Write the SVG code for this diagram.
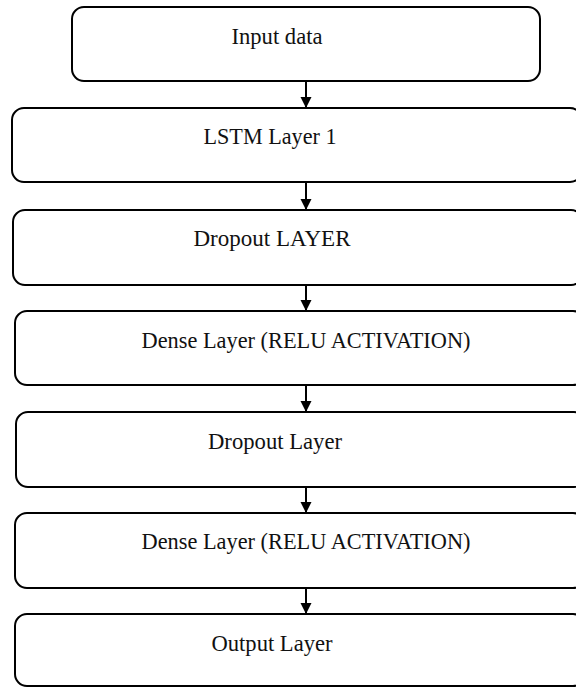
<svg xmlns="http://www.w3.org/2000/svg" width="576" height="688" viewBox="0 0 576 688">
<style>
.box{fill:#fff;stroke:#000;stroke-width:2}
.lbl{font-family:"Liberation Serif","Times New Roman",serif;font-size:24px;fill:#111;text-anchor:middle}
.con{stroke:#000;stroke-width:2;fill:none}
</style>
<defs>
<marker id="ah" markerWidth="12" markerHeight="12" refX="11" refY="6" orient="auto" markerUnits="userSpaceOnUse">
<path d="M0,0.5 L11,6 L0,11.5 Z" fill="#000"/>
</marker>
</defs>
<rect width="576" height="688" fill="#fff"/>
<g id="n1"><rect class="box" x="72" y="7" width="468" height="74" rx="12"/><text class="lbl" x="277" y="44" textLength="91" lengthAdjust="spacingAndGlyphs">Input data</text></g>
<g id="n2"><rect class="box" x="12" y="108" width="570" height="74" rx="12"/><text class="lbl" x="270" y="144" textLength="133" lengthAdjust="spacingAndGlyphs">LSTM Layer 1</text></g>
<g id="n3"><rect class="box" x="13" y="210" width="570" height="75" rx="12"/><text class="lbl" x="272" y="246" textLength="157" lengthAdjust="spacingAndGlyphs">Dropout LAYER</text></g>
<g id="n4"><rect class="box" x="15" y="311" width="570" height="74" rx="12"/><text class="lbl" x="306" y="348" textLength="329" lengthAdjust="spacingAndGlyphs">Dense Layer (RELU ACTIVATION)</text></g>
<g id="n5"><rect class="box" x="16" y="412" width="570" height="75" rx="12"/><text class="lbl" x="275" y="449" textLength="134" lengthAdjust="spacingAndGlyphs">Dropout Layer</text></g>
<g id="n6"><rect class="box" x="15" y="513" width="570" height="75" rx="12"/><text class="lbl" x="306" y="549" textLength="329" lengthAdjust="spacingAndGlyphs">Dense Layer (RELU ACTIVATION)</text></g>
<g id="n7"><rect class="box" x="15" y="614" width="570" height="72" rx="12"/><text class="lbl" x="272" y="651" textLength="121" lengthAdjust="spacingAndGlyphs">Output Layer</text></g>
<g id="connectors">
<line class="con" x1="306" y1="82" x2="306" y2="108" marker-end="url(#ah)"/>
<line class="con" x1="306" y1="183" x2="306" y2="210" marker-end="url(#ah)"/>
<line class="con" x1="306" y1="286" x2="306" y2="311" marker-end="url(#ah)"/>
<line class="con" x1="306" y1="386" x2="306" y2="412" marker-end="url(#ah)"/>
<line class="con" x1="306" y1="488" x2="306" y2="513" marker-end="url(#ah)"/>
<line class="con" x1="306" y1="589" x2="306" y2="614" marker-end="url(#ah)"/>
</g>
</svg>
